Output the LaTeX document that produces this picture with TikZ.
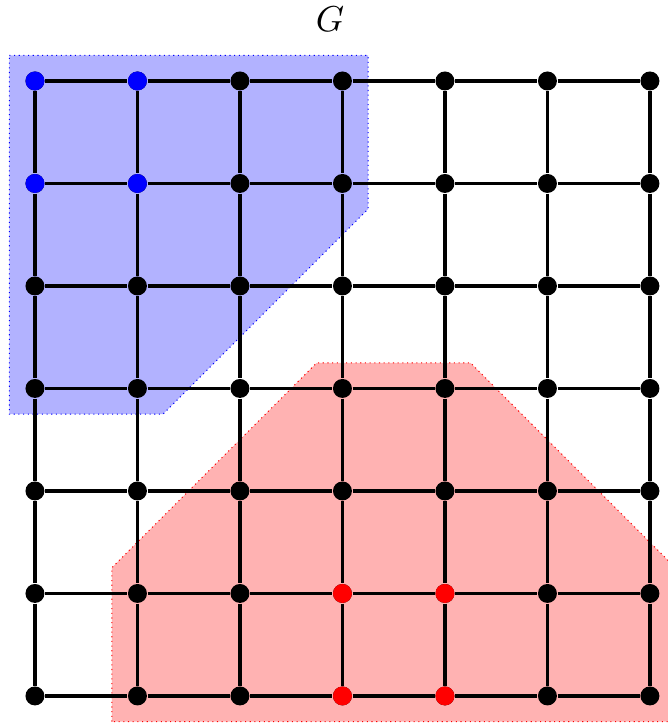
\documentclass[tikz,border=0pt]{standalone}
\begin{document}
\begin{tikzpicture}[x=1cm,y=-1cm,
  vtx/.style={circle,fill=black,inner sep=0pt,minimum size=0.185cm},
  bvtx/.style={vtx,fill=blue},
  rvtx/.style={vtx,fill=red},
  edge/.style={line width=0.9pt},
  region/.style={densely dotted,line width=0.3pt}]
\useasboundingbox (-0.341,-0.79) rectangle (6.175,6.303);
\fill[blue!30] (-0.25,-0.25) -- (3.25,-0.25) -- (3.25,1.25) -- (1.25,3.25) -- (-0.25,3.25) -- cycle;
\draw[blue,region] (-0.25,-0.25) -- (3.25,-0.25) -- (3.25,1.25) -- (1.25,3.25) -- (-0.25,3.25) -- cycle;
\fill[red!30] (0.75,6.25) -- (0.75,4.75) -- (2.75,2.75) -- (4.25,2.75) -- (6.25,4.75) -- (6.25,6.25) -- cycle;
\draw[red,region] (0.75,6.25) -- (0.75,4.75) -- (2.75,2.75) -- (4.25,2.75) -- (6.25,4.75) -- (6.25,6.25) -- cycle;
\node (title) at (2.88,-0.6) {$G$};
\foreach \i in {0,...,6} {
  \foreach \j in {0,...,6} {
    \node[vtx] (v\i-\j) at (\i,\j) {};
  }
}
\foreach \p in {0-0,1-0,0-1,1-1} { \node[bvtx] (b\p) at (v\p) {}; }
\foreach \p in {3-5,4-5,3-6,4-6} { \node[rvtx] (r\p) at (v\p) {}; }
\foreach \j in {0,...,6} {
  \foreach \i [evaluate=\i as \k using int(\i+1)] in {0,...,5} {
    \draw[edge] (v\i-\j) -- (v\k-\j);
    \draw[edge] (v\j-\i) -- (v\j-\k);
  }
}
\end{tikzpicture}
\end{document}
